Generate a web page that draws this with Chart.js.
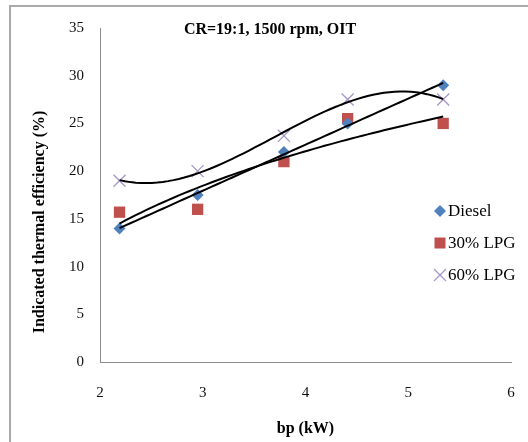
<!DOCTYPE html>
<html>
<head>
<meta charset="utf-8">
<script src="https://cdn.jsdelivr.net/npm/chart.js@4/dist/chart.umd.min.js"></script>
<style>
  html, body { margin: 0; padding: 0; background: #fff; }
  #wrap { position: relative; width: 528px; height: 442px; }
</style>
</head>
<body>
<div id="wrap"><canvas id="chart" width="528" height="442"></canvas></div>
<script>
// data
const bp = [2.19, 2.95, 3.79, 4.41, 5.34];
const diesel = [14, 17.5, 22, 25, 29];
const lpg30 = [15.7, 16, 21, 25.5, 25];
const lpg60 = [19, 20, 23.7, 27.5, 27.5];
const seriesNames = ['Diesel', '30% LPG', '60% LPG'];
const xTicks = [2, 3, 4, 5, 6];
const yTicks = [0, 5, 10, 15, 20, 25, 30, 35];
const chartTitle = 'CR=19:1, 1500 rpm, OIT';
const xTitle = 'bp (kW)';
const yTitle = 'Indicated thermal efficiency (%)';

const colors = ['#4F81BD', '#C0504D', '#A597C8'];
const serif = '"Liberation Serif", "Times New Roman", serif';

// least squares polynomial fit (Excel style trendlines)
function polyfit(xs, ys, deg) {
  const n = deg + 1;
  const A = [], b = [];
  for (let i = 0; i < n; i++) { A.push(new Array(n).fill(0)); b.push(0); }
  xs.forEach((x, k) => {
    for (let i = 0; i < n; i++) {
      for (let j = 0; j < n; j++) A[i][j] += Math.pow(x, i + j);
      b[i] += ys[k] * Math.pow(x, i);
    }
  });
  for (let c = 0; c < n; c++) {
    let p = c;
    for (let r = c + 1; r < n; r++) if (Math.abs(A[r][c]) > Math.abs(A[p][c])) p = r;
    [A[c], A[p]] = [A[p], A[c]]; [b[c], b[p]] = [b[p], b[c]];
    for (let r = c + 1; r < n; r++) {
      const f = A[r][c] / A[c][c];
      for (let j = c; j < n; j++) A[r][j] -= f * A[c][j];
      b[r] -= f * b[c];
    }
  }
  const coef = new Array(n).fill(0);
  for (let i = n - 1; i >= 0; i--) {
    let s = b[i];
    for (let j = i + 1; j < n; j++) s -= A[i][j] * coef[j];
    coef[i] = s / A[i][i];
  }
  return x => coef.reduce((acc, c, i) => acc + c * Math.pow(x, i), 0);
}

function logfit(xs, ys) {
  const f = polyfit(xs.map(Math.log), ys, 1);
  return x => f(Math.log(x));
}

function sample(fn) {
  const pts = [];
  const x0 = bp[0], x1 = bp[bp.length - 1];
  for (let i = 0; i <= 60; i++) {
    const x = x0 + (x1 - x0) * i / 60;
    pts.push({ x: x, y: fn(x) });
  }
  return pts;
}

const toPts = ys => bp.map((x, i) => ({ x: x, y: ys[i] }));

function trend(fn) {
  return {
    data: sample(fn), showLine: true, borderColor: '#000', borderWidth: 2,
    pointRadius: 0, fill: false, tension: 0, order: 0
  };
}

const framePlugin = {
  id: 'frame',
  beforeDraw(chart) {
    const ctx = chart.ctx;
    ctx.save();
    ctx.strokeStyle = '#aaaaaa';
    ctx.lineWidth = 2;
    ctx.strokeRect(10, 6, 700, 700);
    ctx.restore();
  },
  afterDraw(chart) {
    const ctx = chart.ctx;
    ctx.save();
    ctx.fillStyle = '#000';
    ctx.textBaseline = 'middle';
    // title
    ctx.font = 'bold 16px ' + serif;
    ctx.textAlign = 'center';
    ctx.fillText(chartTitle, 270, 30);
    // y title
    ctx.save();
    ctx.translate(40, 222);
    ctx.rotate(-Math.PI / 2);
    ctx.fillText(yTitle, 0, 0);
    ctx.restore();
    // legend
    ctx.font = '17px ' + serif;
    ctx.textAlign = 'left';
    const ly = [211, 243, 275];
    seriesNames.forEach((name, i) => {
      const x = 440, y = ly[i];
      ctx.fillStyle = colors[i];
      ctx.strokeStyle = colors[i];
      if (i === 0) {
        ctx.beginPath();
        ctx.moveTo(x, y - 6); ctx.lineTo(x + 6, y); ctx.lineTo(x, y + 6); ctx.lineTo(x - 6, y);
        ctx.closePath(); ctx.fill();
      } else if (i === 1) {
        ctx.fillRect(x - 5.5, y - 5.5, 11, 11);
      } else {
        ctx.lineWidth = 1.3;
        ctx.beginPath();
        ctx.moveTo(x - 6, y - 6); ctx.lineTo(x + 6, y + 6);
        ctx.moveTo(x + 6, y - 6); ctx.lineTo(x - 6, y + 6);
        ctx.stroke();
      }
      ctx.fillStyle = '#000';
      ctx.fillText(name, x + 8, y + 1);
    });
    ctx.restore();
  }
};

new Chart(document.getElementById('chart').getContext('2d'), {
  type: 'scatter',
  data: {
    datasets: [
      { label: seriesNames[0], data: toPts(diesel), pointStyle: 'rectRot', pointRadius: 6,
        backgroundColor: colors[0], borderColor: colors[0], borderWidth: 0, order: 1 },
      { label: seriesNames[1], data: toPts(lpg30), pointStyle: 'rect', pointRadius: 8,
        backgroundColor: colors[1], borderColor: colors[1], borderWidth: 0, order: 1 },
      { label: seriesNames[2], data: toPts(lpg60), pointStyle: 'crossRot', pointRadius: 8.5,
        backgroundColor: colors[2], borderColor: colors[2], borderWidth: 1.3, order: 1 },
      trend(polyfit(bp, diesel, 1)),
      trend(logfit(bp, lpg30)),
      trend(polyfit(bp, lpg60, 3))
    ]
  },
  options: {
    responsive: false,
    animation: false,
    layout: { padding: { left: 0, right: 17, top: 28, bottom: 0 } },
    plugins: { legend: { display: false }, tooltip: { enabled: false }, title: { display: false } },
    scales: {
      x: {
        type: 'linear', min: xTicks[0], max: xTicks[xTicks.length - 1],
        afterBuildTicks: s => { s.ticks = xTicks.map(v => ({ value: v })); },
        afterFit: s => { s.height = 80; s.paddingRight = 0; s.paddingLeft = 0; },
        grid: { display: false, drawTicks: false },
        border: { display: true, color: '#8c8c8c', width: 1 },
        ticks: { padding: 22, color: '#111', font: { family: serif, size: 15 } },
        title: { display: true, text: xTitle, color: '#000', padding: { top: 18 },
          font: { family: serif, size: 16, weight: 'bold' } }
      },
      y: {
        min: yTicks[0], max: yTicks[yTicks.length - 1],
        afterBuildTicks: s => { s.ticks = yTicks.map(v => ({ value: v })); },
        afterFit: s => { s.width = 100; },
        grid: { display: false, drawTicks: false },
        border: { display: true, color: '#8c8c8c', width: 1 },
        ticks: { padding: 16, color: '#111', font: { family: serif, size: 15 } }
      }
    }
  },
  plugins: [framePlugin]
});
</script>
</body>
</html>
